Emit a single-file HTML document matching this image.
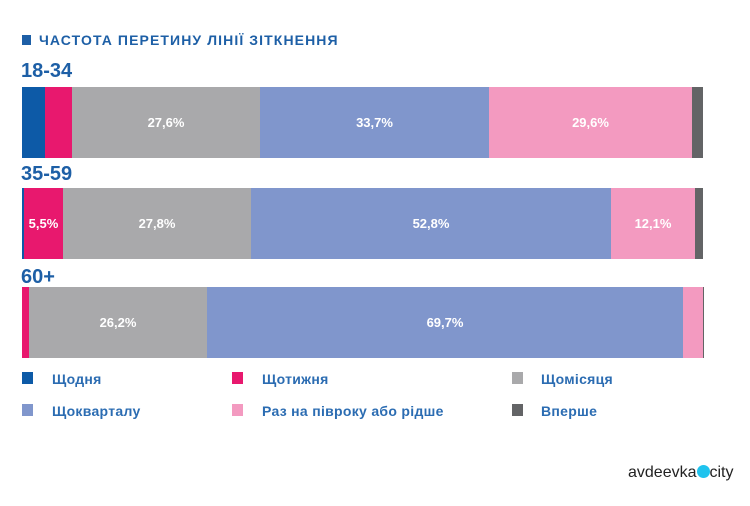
<!DOCTYPE html><html><head><meta charset="utf-8"><style>
body{margin:0;width:750px;height:506px;background:#fff;position:relative;overflow:hidden;font-family:"Liberation Sans","DejaVu Sans",sans-serif}
.a{position:absolute}
.s{position:absolute;height:100%;top:0;color:#fff;font-weight:bold;font-size:13px;display:flex;align-items:center;justify-content:center}
.bar{position:absolute;left:0;height:71px}
.lab{position:absolute;color:#1d5fa6;font-weight:bold;font-size:20px;left:21px}
.lg{position:absolute;width:11px;height:12px}
.lt{position:absolute;color:#2b6cb2;font-weight:bold;font-size:14px;letter-spacing:0.3px}
</style></head><body>
<div class="a" style="left:22px;top:35px;width:9px;height:10px;background:#1d5fa6"></div>
<div class="a" style="left:39px;top:32px;color:#1d5fa6;font-weight:bold;font-size:14px;letter-spacing:1.1px">ЧАСТОТА ПЕРЕТИНУ ЛІНІЇ ЗІТКНЕННЯ</div>
<div class="lab" style="top:60px">18-34</div>
<div class="lab" style="top:163px">35-59</div>
<div class="lab" style="top:266px">60+</div>
<div class="bar" style="top:87px;width:750px">
<div class="s" style="left:22px;width:23px;background:#0d5aa7"></div>
<div class="s" style="left:45px;width:27px;background:#e8186e"></div>
<div class="s" style="left:72px;width:188px;background:#a9a9ab">27,6%</div>
<div class="s" style="left:260px;width:229px;background:#8096cc">33,7%</div>
<div class="s" style="left:489px;width:203px;background:#f39ac0">29,6%</div>
<div class="s" style="left:692px;width:11px;background:#636466"></div>
</div>
<div class="bar" style="top:188px;width:750px">
<div class="s" style="left:22px;width:2px;background:#0d5aa7"></div>
<div class="s" style="left:24px;width:39px;background:#e8186e">5,5%</div>
<div class="s" style="left:63px;width:188px;background:#a9a9ab">27,8%</div>
<div class="s" style="left:251px;width:360px;background:#8096cc">52,8%</div>
<div class="s" style="left:611px;width:84px;background:#f39ac0">12,1%</div>
<div class="s" style="left:695px;width:8px;background:#636466"></div>
</div>
<div class="bar" style="top:287px;width:750px">
<div class="s" style="left:22px;width:7px;background:#e8186e"></div>
<div class="s" style="left:29px;width:178px;background:#a9a9ab">26,2%</div>
<div class="s" style="left:207px;width:476px;background:#8096cc">69,7%</div>
<div class="s" style="left:683px;width:20px;background:#f39ac0"></div>
<div class="s" style="left:703px;width:1px;background:#636466"></div>
</div>
<div class="lg" style="left:22px;top:372px;background:#0d5aa7"></div><div class="lt" style="left:52px;top:371px">Щодня</div>
<div class="lg" style="left:232px;top:372px;background:#e8186e"></div><div class="lt" style="left:262px;top:371px">Щотижня</div>
<div class="lg" style="left:512px;top:372px;background:#a9a9ab"></div><div class="lt" style="left:541px;top:371px">Щомісяця</div>
<div class="lg" style="left:22px;top:404px;background:#8096cc"></div><div class="lt" style="left:52px;top:403px">Щокварталу</div>
<div class="lg" style="left:232px;top:404px;background:#f39ac0"></div><div class="lt" style="left:262px;top:403px">Раз на півроку або рідше</div>
<div class="lg" style="left:512px;top:404px;background:#636466"></div><div class="lt" style="left:541px;top:403px">Вперше</div>
<div class="a" style="left:628px;top:464px;font-size:16px;color:#222">avdeevka<span style="display:inline-block;width:13px;height:13px;border-radius:50%;background:#1fc3ee;vertical-align:-1px"></span>city</div>
</body></html>
